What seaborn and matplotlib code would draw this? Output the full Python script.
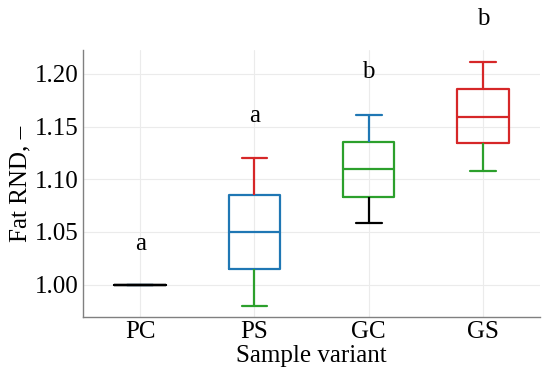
import numpy as np
import pandas as pd
import matplotlib
matplotlib.use("Agg")
import matplotlib.pyplot as plt
import seaborn as sns

# Data: per-group five-number summaries
categories = ["PC", "PS", "GC", "GS"]
low_whisker = [1.000, 0.980, 1.058, 1.108]
q1 = [1.000, 1.015, 1.083, 1.134]
median = [1.000, 1.050, 1.110, 1.159]
q3 = [1.000, 1.085, 1.135, 1.186]
high_whisker = [1.000, 1.120, 1.161, 1.211]
group_letters = ["a", "a", "b", "b"]
letter_y = [1.033, 1.154, 1.196, 1.246]

cycle_colors = ["black", "#1f77b4", "#2ca02c", "#d62728"]

rows = []
for i, c in enumerate(categories):
    for v in (low_whisker[i], q1[i], median[i], q3[i], high_whisker[i]):
        rows.append({"variant": c, "value": v})
df = pd.DataFrame(rows)

sns.set_style("white")
plt.rcParams["font.family"] = ["Liberation Serif", "DejaVu Serif"]
plt.rcParams["text.color"] = "black"
plt.rcParams["axes.labelcolor"] = "black"
plt.rcParams["xtick.color"] = "black"
plt.rcParams["ytick.color"] = "black"

fig = plt.figure(figsize=(5.5, 3.74), dpi=100)
ax = fig.add_axes([0.151, 0.152, 0.831, 0.714])

sns.boxplot(data=df, x="variant", y="value", order=categories, whis=(0, 100),
            width=0.45, fill=False, linewidth=1.6, showfliers=False, ax=ax)

cont = ax.containers[0]
def recolor(artists):
    for i, a in enumerate(artists):
        col = cycle_colors[i % 4]
        if hasattr(a, "set_edgecolor"):
            a.set_edgecolor(col)
            a.set_facecolor("none")
        else:
            a.set_color(col)
recolor(cont.boxes)
recolor(cont.medians)
recolor(cont.whiskers)
recolor(cont.caps)

for i, (t, yv) in enumerate(zip(group_letters, letter_y)):
    ax.text(i, yv, t, ha="center", va="baseline", fontsize=18,
            color="black", clip_on=False)

ax.set_xlim(-0.5, 3.5)
ax.set_ylim(0.969, 1.2226)
ax.set_yticks([1.00, 1.05, 1.10, 1.15, 1.20])
ax.set_yticklabels(["1.00", "1.05", "1.10", "1.15", "1.20"])
ax.grid(True, color="#ebebeb", linewidth=0.8)
ax.set_axisbelow(True)
ax.tick_params(axis="both", length=0, labelsize=18, pad=3, colors="black")
ax.set_xlabel("Sample variant", fontsize=18, labelpad=1, color="black")
ax.set_ylabel("Fat RND, \u2013", fontsize=18, labelpad=3, color="black")
for s in ["top", "right"]:
    ax.spines[s].set_visible(False)
for s in ["left", "bottom"]:
    ax.spines[s].set_color("#808080")
    ax.spines[s].set_linewidth(1.0)

fig.savefig("out.png", dpi=100)
